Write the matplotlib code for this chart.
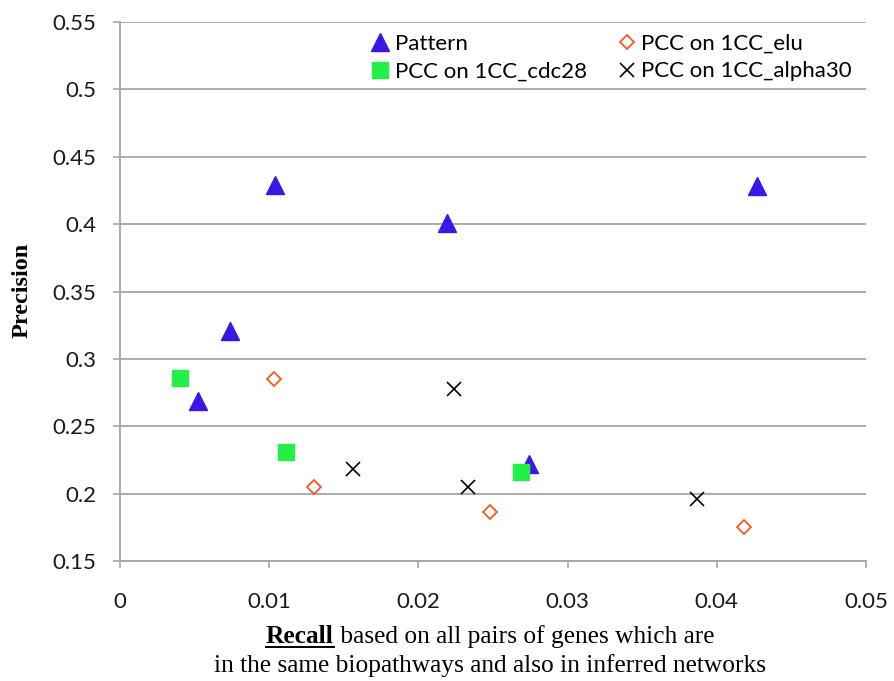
import numpy as np
import matplotlib
matplotlib.use('Agg')
from matplotlib import pyplot as plt
from matplotlib.lines import Line2D

# recall (x) / precision (y)
pattern_x = [0.0104, 0.0219, 0.0427, 0.0074, 0.0052, 0.0274]
pattern_y = [0.429, 0.401, 0.428, 0.321, 0.269, 0.222]

elu_x = [0.0103, 0.0130, 0.0248, 0.0418]
elu_y = [0.285, 0.205, 0.186, 0.175]

cdc28_x = [0.0040, 0.0111, 0.0269]
cdc28_y = [0.286, 0.231, 0.216]

alpha30_x = [0.0156, 0.0224, 0.0233, 0.0387]
alpha30_y = [0.218, 0.278, 0.205, 0.196]

x_ticks = [0, 0.01, 0.02, 0.03, 0.04, 0.05]
x_labels = ['0', '0.01', '0.02', '0.03', '0.04', '0.05']
y_ticks = [0.15, 0.2, 0.25, 0.3, 0.35, 0.4, 0.45, 0.5, 0.55]
y_labels = ['0.15', '0.2', '0.25', '0.3', '0.35', '0.4', '0.45', '0.5', '0.55']

W, H = 895, 681
fig = plt.figure(figsize=(W / 100, H / 100), dpi=100)
ax = fig.add_axes([120 / W, 1 - 561 / H, 746 / W, 539 / H])

tick_font = 'Lato'
serif = 'Liberation Serif'
grey = '#a6a6a6'

h_pat, = ax.plot(pattern_x, pattern_y, '^', color='#3b17e6', markersize=13, label='Pattern', zorder=3)
h_elu, = ax.plot(elu_x, elu_y, 'D', markerfacecolor='white', markeredgecolor='#f25a22',
                 markeredgewidth=1.3, markersize=7.5, label='PCC on 1CC_elu', zorder=3)
h_cdc, = ax.plot(cdc28_x, cdc28_y, 's', color='#22f046', markersize=11.5, label='PCC on 1CC_cdc28', zorder=4)
h_alp, = ax.plot(alpha30_x, alpha30_y, 'x', color='black', markersize=10.5, markeredgewidth=1.2,
                 label='PCC on 1CC_alpha30', zorder=3)

ax.set_xlim(0, 0.05)
ax.set_ylim(0.15, 0.55)
ax.set_xticks(x_ticks)
ax.set_xticklabels(x_labels, fontfamily=tick_font, fontsize=16)
ax.set_yticks(y_ticks)
ax.set_yticklabels(y_labels, fontfamily=tick_font, fontsize=16)
ax.tick_params(axis='x', direction='out', length=5, width=1.2, color=grey, pad=17, labelcolor='#1a1a1a')
ax.tick_params(axis='y', direction='out', length=5, width=1.2, color=grey, pad=12, labelcolor='#1a1a1a')

ax.grid(axis='y', color=grey, linewidth=1.3)
ax.set_axisbelow(True)
for s in ['top', 'right']:
    ax.spines[s].set_visible(False)
for s in ['left', 'bottom']:
    ax.spines[s].set_color(grey)
    ax.spines[s].set_linewidth(1.3)

# column-wise fill: Pattern / cdc28 on the left, elu / alpha30 on the right
leg = ax.legend([h_pat, h_cdc, h_elu, h_alp],
                ['Pattern', 'PCC on 1CC_cdc28', 'PCC on 1CC_elu', 'PCC on 1CC_alpha30'],
                ncol=2, loc='upper left', bbox_to_anchor=(0.325, 0.995), frameon=False,
                prop={'family': tick_font, 'size': 16}, handlelength=0.8, handletextpad=0.25,
                columnspacing=1.4, labelspacing=0.35, borderaxespad=0)

fig.text(22 / W, 1 - 290 / H, 'Precision', rotation=90, ha='center', va='center',
         fontfamily=serif, fontweight='bold', fontsize=17.5)

# x label: first word bold + underlined
fs = 18.3
y1 = 1 - 643 / H
t1 = fig.text(0, y1, 'Recall', fontfamily=serif, fontweight='bold', fontsize=fs, va='baseline')
t2 = fig.text(0, y1, ' based on all pairs of genes which are', fontfamily=serif, fontsize=fs, va='baseline')
fig.canvas.draw()
r = fig.canvas.get_renderer()
w1 = t1.get_window_extent(r).width
w2 = t2.get_window_extent(r).width
start = 490 - (w1 + w2) / 2
t1.set_x(start / W)
t2.set_x((start + w1) / W)
uy = y1 - 3.5 / H
fig.add_artist(Line2D([start / W, (start + w1) / W], [uy, uy], color='black', linewidth=1.4))
fig.text(490 / W, 1 - 672 / H, 'in the same biopathways and also in inferred networks',
         fontfamily=serif, fontsize=fs, ha='center', va='baseline')

fig.savefig('out.png', dpi=100)
